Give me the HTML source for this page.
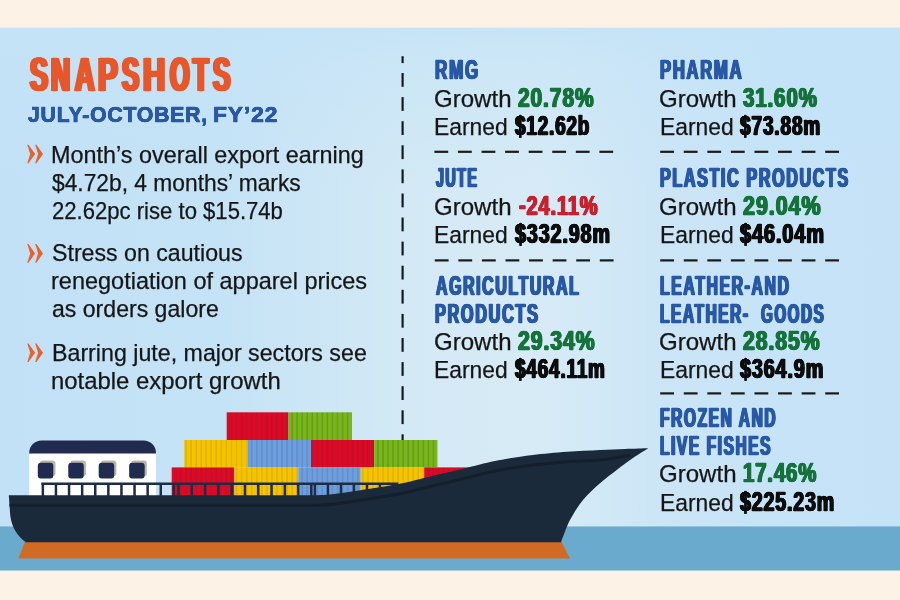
<!DOCTYPE html>
<html><head><meta charset="utf-8"><title>Snapshots</title>
<style>
html,body{margin:0;padding:0;}
body{width:900px;height:600px;overflow:hidden;background:#fdf2e6;position:relative;font-family:"Liberation Sans",sans-serif;}
#sky{position:absolute;left:0;top:27px;width:900px;height:544px;background:linear-gradient(180deg,rgba(196,227,247,0.85) 0,rgba(196,227,247,0.5) 8%,rgba(196,227,247,0) 30%),linear-gradient(90deg,#c2e1f6 0%,#c5e3f6 25%,#d3e9f5 45%,#d7ebf6 60%,#cde6f6 72%,#c6e3f7 85%,#c5e2f7 100%);}
#sea{position:absolute;left:0;top:527px;width:900px;height:44px;background:#6aabcd;border-top:1px solid rgba(106,171,205,0.55);margin-top:-1px;background-clip:padding-box;}
.t{position:absolute;white-space:pre;transform-origin:0 0;}
svg{position:absolute;left:0;top:0;}
</style></head><body>
<div id="sky"></div>
<div id="sea"></div>
<div style="position:absolute;left:0;top:27px;width:900px;height:1px;background:rgba(253,242,230,0.6)"></div>
<div style="position:absolute;left:0;top:570px;width:900px;height:1px;background:rgba(253,242,230,0.5)"></div>
<svg width="900" height="600" viewBox="0 0 900 600">
<defs>
<pattern id="cr" width="5.05" height="10" patternUnits="userSpaceOnUse"><rect width="5.05" height="10" fill="#dc0a26"/><rect x="3.6" width="1.3" height="10" fill="#bf0f26"/></pattern>
<pattern id="cy" width="5.05" height="10" patternUnits="userSpaceOnUse"><rect width="5.05" height="10" fill="#f5c400"/><rect x="3.6" width="1.3" height="10" fill="#e0ae00"/></pattern>
<pattern id="cb" width="5.05" height="10" patternUnits="userSpaceOnUse"><rect width="5.05" height="10" fill="#6e9fdc"/><rect x="3.6" width="1.3" height="10" fill="#5c8ccb"/></pattern>
<pattern id="cg" width="5.05" height="10" patternUnits="userSpaceOnUse"><rect width="5.05" height="10" fill="#7ab51d"/><rect x="3.6" width="1.3" height="10" fill="#5f9a17"/></pattern>
</defs>
<!-- vertical dashed -->
<g fill="#1a1a1a"><rect x="401.5" y="56.2" width="2.2" height="6.9"/>
<rect x="401.5" y="73.0" width="2.2" height="13.8"/>
<rect x="401.5" y="97.1" width="2.2" height="13.8"/>
<rect x="401.5" y="121.2" width="2.2" height="13.8"/>
<rect x="401.5" y="145.3" width="2.2" height="13.8"/>
<rect x="401.5" y="169.4" width="2.2" height="13.8"/>
<rect x="401.5" y="193.5" width="2.2" height="13.8"/>
<rect x="401.5" y="217.5" width="2.2" height="13.8"/>
<rect x="401.5" y="241.6" width="2.2" height="13.8"/>
<rect x="401.5" y="265.7" width="2.2" height="13.8"/>
<rect x="401.5" y="289.8" width="2.2" height="13.8"/>
<rect x="401.5" y="313.9" width="2.2" height="13.8"/>
<rect x="401.5" y="338.0" width="2.2" height="13.8"/>
<rect x="401.5" y="362.1" width="2.2" height="13.8"/>
<rect x="401.5" y="386.2" width="2.2" height="13.8"/>
<rect x="401.5" y="410.3" width="2.2" height="13.8"/>
<rect x="401.5" y="434.3" width="2.2" height="5.7"/></g>
<g fill="#1a1a1a"><rect x="434.40" y="150.70" width="13.8" height="2.2"/>
<rect x="457.97" y="150.70" width="13.8" height="2.2"/>
<rect x="481.54" y="150.70" width="13.8" height="2.2"/>
<rect x="505.11" y="150.70" width="13.8" height="2.2"/>
<rect x="528.68" y="150.70" width="13.8" height="2.2"/>
<rect x="552.25" y="150.70" width="13.8" height="2.2"/>
<rect x="575.82" y="150.70" width="13.8" height="2.2"/>
<rect x="599.39" y="150.70" width="13.8" height="2.2"/>
<rect x="434.80" y="259.30" width="13.8" height="2.2"/>
<rect x="458.37" y="259.30" width="13.8" height="2.2"/>
<rect x="481.94" y="259.30" width="13.8" height="2.2"/>
<rect x="505.51" y="259.30" width="13.8" height="2.2"/>
<rect x="529.08" y="259.30" width="13.8" height="2.2"/>
<rect x="552.65" y="259.30" width="13.8" height="2.2"/>
<rect x="576.22" y="259.30" width="13.8" height="2.2"/>
<rect x="599.79" y="259.30" width="13.8" height="2.2"/>
<rect x="660.20" y="150.70" width="13.8" height="2.2"/>
<rect x="683.77" y="150.70" width="13.8" height="2.2"/>
<rect x="707.34" y="150.70" width="13.8" height="2.2"/>
<rect x="730.91" y="150.70" width="13.8" height="2.2"/>
<rect x="754.48" y="150.70" width="13.8" height="2.2"/>
<rect x="778.05" y="150.70" width="13.8" height="2.2"/>
<rect x="801.62" y="150.70" width="13.8" height="2.2"/>
<rect x="825.19" y="150.70" width="13.8" height="2.2"/>
<rect x="660.20" y="259.30" width="13.8" height="2.2"/>
<rect x="683.77" y="259.30" width="13.8" height="2.2"/>
<rect x="707.34" y="259.30" width="13.8" height="2.2"/>
<rect x="730.91" y="259.30" width="13.8" height="2.2"/>
<rect x="754.48" y="259.30" width="13.8" height="2.2"/>
<rect x="778.05" y="259.30" width="13.8" height="2.2"/>
<rect x="801.62" y="259.30" width="13.8" height="2.2"/>
<rect x="825.19" y="259.30" width="13.8" height="2.2"/>
<rect x="660.20" y="392.30" width="13.8" height="2.2"/>
<rect x="683.77" y="392.30" width="13.8" height="2.2"/>
<rect x="707.34" y="392.30" width="13.8" height="2.2"/>
<rect x="730.91" y="392.30" width="13.8" height="2.2"/>
<rect x="754.48" y="392.30" width="13.8" height="2.2"/>
<rect x="778.05" y="392.30" width="13.8" height="2.2"/>
<rect x="801.62" y="392.30" width="13.8" height="2.2"/>
<rect x="825.19" y="392.30" width="13.8" height="2.2"/></g>
<g fill="#e8612f"><path d="M27.3,144.7 L28.5,144.7 L35.1,154 L28.5,163.3 L27.3,163.3 L30.2,154 Z"/><path d="M35.2,144.7 L36.400000000000006,144.7 L43.0,154 L36.400000000000006,163.3 L35.2,163.3 L38.1,154 Z"/><path d="M27.3,244.1 L28.5,244.1 L35.1,253.4 L28.5,262.7 L27.3,262.7 L30.2,253.4 Z"/><path d="M35.2,244.1 L36.400000000000006,244.1 L43.0,253.4 L36.400000000000006,262.7 L35.2,262.7 L38.1,253.4 Z"/><path d="M27.3,343.5 L28.5,343.5 L35.1,352.8 L28.5,362.1 L27.3,362.1 L30.2,352.8 Z"/><path d="M35.2,343.5 L36.400000000000006,343.5 L43.0,352.8 L36.400000000000006,362.1 L35.2,362.1 L38.1,352.8 Z"/></g>
<!-- cabin -->
<path d="M29.2,454 L29.2,453 A12.5,12.5 0 0 1 41.7,440.4 L143.5,440.4 A12.5,12.5 0 0 1 156,453 L156,454 Z" fill="#1f2c50"/>
<rect x="29.2" y="453.5" width="126.8" height="43" fill="#ffffff"/>
<g fill="#b9b4ae">
<rect x="39.90" y="460.4" width="15.6" height="15.8" rx="3"/><rect x="70.35" y="460.4" width="15.6" height="15.8" rx="3"/><rect x="100.80" y="460.4" width="15.6" height="15.8" rx="3"/><rect x="131.25" y="460.4" width="15.6" height="15.8" rx="3"/>
</g>
<g fill="#1f2c50">
<rect x="37.80" y="462.8" width="15.5" height="15.8" rx="3"/><rect x="68.25" y="462.8" width="15.5" height="15.8" rx="3"/><rect x="98.70" y="462.8" width="15.5" height="15.8" rx="3"/><rect x="129.15" y="462.8" width="15.5" height="15.8" rx="3"/>
</g>
<!-- containers -->
<rect x="226.7" y="412.3" width="61.8" height="27.7" fill="url(#cr)"/>
<rect x="288.5" y="412.3" width="63.5" height="27.7" fill="url(#cg)"/>
<rect x="184.3" y="440" width="63.3" height="27.4" fill="url(#cy)"/>
<rect x="247.6" y="440" width="63.4" height="27.4" fill="url(#cb)"/>
<rect x="311" y="440" width="63.2" height="27.4" fill="url(#cr)"/>
<rect x="374.2" y="440" width="63.2" height="27.4" fill="url(#cg)"/>
<rect x="171.7" y="467.4" width="62.7" height="29.6" fill="url(#cr)"/>
<rect x="234.4" y="467.4" width="63.9" height="29.6" fill="url(#cy)"/>
<rect x="298.3" y="467.4" width="62.4" height="29.6" fill="url(#cb)"/>
<rect x="360.7" y="467.4" width="63.5" height="29.6" fill="url(#cy)"/>
<rect x="424.2" y="467.4" width="45.8" height="29.6" fill="url(#cr)"/>
<!-- railing -->
<g fill="#1f2c46">
<rect x="41.3" y="482.5" width="357" height="2.5"/>
<rect x="41.6" y="483" width="2.5" height="13"/>
<rect x="54.7" y="483" width="2.5" height="13"/>
<rect x="67.8" y="483" width="2.5" height="13"/>
<rect x="80.9" y="483" width="2.5" height="13"/>
<rect x="94.0" y="483" width="2.5" height="13"/>
<rect x="107.1" y="483" width="2.5" height="13"/>
<rect x="120.2" y="483" width="2.5" height="13"/>
<rect x="133.3" y="483" width="2.5" height="13"/>
<rect x="146.4" y="483" width="2.5" height="13"/>
<rect x="159.5" y="483" width="2.5" height="13"/>
<rect x="172.5" y="483" width="2.5" height="13"/>
<rect x="177.2" y="483" width="2.5" height="13"/>
<rect x="190.5" y="483" width="2.5" height="13"/>
<rect x="203.8" y="483" width="2.5" height="13"/>
<rect x="217.1" y="483" width="2.5" height="13"/>
<rect x="230.4" y="483" width="2.5" height="13"/>
<rect x="243.7" y="483" width="2.5" height="13"/>
<rect x="257.0" y="483" width="2.5" height="13"/>
<rect x="270.3" y="483" width="2.5" height="13"/>
<rect x="283.6" y="483" width="2.5" height="13"/>
<rect x="296.9" y="483" width="2.5" height="13"/>
<rect x="310.0" y="483" width="2.5" height="13"/>
<rect x="313.6" y="483" width="2.5" height="13"/>
<rect x="326.7" y="483" width="2.5" height="13"/>
<rect x="339.7" y="483" width="2.5" height="13"/>
<rect x="352.7" y="483" width="2.5" height="13"/>
<rect x="365.7" y="483" width="2.5" height="13"/>
<rect x="378.7" y="483" width="2.5" height="13"/>
<rect x="391.7" y="483" width="2.5" height="13"/>
</g>
<!-- orange keel -->
<path d="M25.3,541 L561,541 L570,558.4 L18.3,558.4 Z" fill="#d06a24"/>
<!-- hull -->
<path d="M8.8,495.3 L300,495.3 C303.8,495.2 316.3,495.3 323.0,495.0 C329.7,494.7 334.3,494.0 340.0,493.3 C345.7,492.6 351.5,491.6 357.0,490.8 C362.5,490.0 367.5,489.2 373.0,488.3 C378.5,487.4 384.3,486.6 390.0,485.6 C395.7,484.6 401.3,483.5 407.0,482.2 C412.7,480.9 419.2,479.2 424.0,478.0 C428.8,476.8 432.2,475.9 436.0,475.0 C439.8,474.1 443.3,473.4 447.0,472.6 C450.7,471.8 454.3,470.9 458.0,470.0 C461.7,469.1 465.3,468.1 469.0,467.2 C472.7,466.3 475.7,465.4 480.0,464.4 C484.3,463.4 490.0,462.0 495.0,461.0 C500.0,460.0 503.7,459.2 510.0,458.2 C516.3,457.2 523.5,456.1 533.0,455.0 C542.5,453.9 555.8,452.6 567.0,451.8 C578.2,451.0 590.3,450.5 600.0,450.0 C609.7,449.5 617.0,449.3 625.0,449.0 C633.0,448.7 644.4,448.4 648.3,448.3 C645.8,449.9 638.3,454.4 633.0,458.0 C627.7,461.6 622.2,465.8 616.7,470.0 C611.2,474.2 605.6,478.3 600.0,483.3 C594.4,488.3 588.0,493.9 583.0,500.0 C578.0,506.1 573.3,513.9 570.0,520.0 C566.7,526.1 564.5,533.0 563.0,536.7 C561.5,540.4 561.3,541.4 561.0,542.3 L26,542.3 C17.5,536.5 11.5,527 10.2,515 Z" fill="#1b2a3b"/>
<!-- sheer line -->
<path d="M9.5,505.3 L300,505.3 C303.8,505.2 316.3,505.3 323.0,505.0 C329.7,504.7 334.3,504.0 340.0,503.3 C345.7,502.6 351.5,501.6 357.0,500.8 C362.5,500.0 367.5,499.2 373.0,498.3 C378.5,497.4 384.3,496.6 390.0,495.6 C395.7,494.6 401.3,493.5 407.0,492.2 C412.7,490.9 419.2,489.2 424.0,488.0 C428.8,486.8 432.2,485.9 436.0,485.0 C439.8,484.1 443.3,483.4 447.0,482.6 C450.7,481.8 454.3,480.9 458.0,480.0 C461.7,479.1 465.3,478.1 469.0,477.2 C472.7,476.3 475.7,475.4 480.0,474.4 C484.3,473.4 490.0,472.0 495.0,471.0 C500.0,470.0 503.7,469.2 510.0,468.2 C516.3,467.2 523.5,466.1 533.0,465.0 C542.5,463.9 555.8,462.6 567.0,461.8 C578.2,461.0 589.5,461.1 600.0,460.0 C610.5,458.9 625.0,455.8 630.0,455.0" fill="none" stroke="#131f2c" stroke-width="3"/>
</svg>
<div id="tx" style="position:absolute;left:0;top:0;width:900px;height:600px;will-change:transform;">
<span class="t" style="left:30.01px;top:50px;font-size:48.6px;line-height:48.6px;font-weight:700;color:#e8572a;transform:scaleX(0.5559);-webkit-text-stroke:0.5px #e8572a;text-shadow:3.06px 0 0 #e8572a,-3.06px 0 0 #e8572a,1.53px 0 0 #e8572a,-1.53px 0 0 #e8572a;">S</span>
<span class="t" style="left:51.07px;top:50px;font-size:48.6px;line-height:48.6px;font-weight:700;color:#e8572a;transform:scaleX(0.5448);-webkit-text-stroke:0.5px #e8572a;text-shadow:3.12px 0 0 #e8572a,-3.12px 0 0 #e8572a,1.56px 0 0 #e8572a,-1.56px 0 0 #e8572a;">N</span>
<span class="t" style="left:74.75px;top:50px;font-size:48.6px;line-height:48.6px;font-weight:700;color:#e8572a;transform:scaleX(0.5545);-webkit-text-stroke:0.5px #e8572a;text-shadow:3.07px 0 0 #e8572a,-3.07px 0 0 #e8572a,1.53px 0 0 #e8572a,-1.53px 0 0 #e8572a;">A</span>
<span class="t" style="left:97.87px;top:50px;font-size:48.6px;line-height:48.6px;font-weight:700;color:#e8572a;transform:scaleX(0.6107);-webkit-text-stroke:0.5px #e8572a;text-shadow:2.78px 0 0 #e8572a,-2.78px 0 0 #e8572a,1.39px 0 0 #e8572a,-1.39px 0 0 #e8572a;">P</span>
<span class="t" style="left:122.34px;top:50px;font-size:48.6px;line-height:48.6px;font-weight:700;color:#e8572a;transform:scaleX(0.5288);-webkit-text-stroke:0.5px #e8572a;text-shadow:3.21px 0 0 #e8572a,-3.21px 0 0 #e8572a,1.61px 0 0 #e8572a,-1.61px 0 0 #e8572a;">S</span>
<span class="t" style="left:142.81px;top:50px;font-size:48.6px;line-height:48.6px;font-weight:700;color:#e8572a;transform:scaleX(0.6310);-webkit-text-stroke:0.5px #e8572a;text-shadow:2.69px 0 0 #e8572a,-2.69px 0 0 #e8572a,1.35px 0 0 #e8572a,-1.35px 0 0 #e8572a;">H</span>
<span class="t" style="left:169.50px;top:50px;font-size:48.6px;line-height:48.6px;font-weight:700;color:#e8572a;transform:scaleX(0.5168);-webkit-text-stroke:0.5px #e8572a;text-shadow:3.29px 0 0 #e8572a,-3.29px 0 0 #e8572a,1.64px 0 0 #e8572a,-1.64px 0 0 #e8572a;">O</span>
<span class="t" style="left:192.87px;top:50px;font-size:48.6px;line-height:48.6px;font-weight:700;color:#e8572a;transform:scaleX(0.5231);-webkit-text-stroke:0.5px #e8572a;text-shadow:3.25px 0 0 #e8572a,-3.25px 0 0 #e8572a,1.62px 0 0 #e8572a,-1.62px 0 0 #e8572a;">T</span>
<span class="t" style="left:212.53px;top:50px;font-size:48.6px;line-height:48.6px;font-weight:700;color:#e8572a;transform:scaleX(0.5356);-webkit-text-stroke:0.5px #e8572a;text-shadow:3.17px 0 0 #e8572a,-3.17px 0 0 #e8572a,1.59px 0 0 #e8572a,-1.59px 0 0 #e8572a;">S</span>
<span class="t" style="left:28.37px;top:104px;font-size:22.5px;line-height:22.5px;font-weight:700;color:#2958a5;transform:scaleX(0.9384);-webkit-text-stroke:0.4px #2958a5;letter-spacing:0.9px;text-shadow:0.32px 0 0 #2958a5,-0.32px 0 0 #2958a5,0.16px 0 0 #2958a5,-0.16px 0 0 #2958a5;">JULY-OCTOBER,</span>
<span class="t" style="left:212.54px;top:104px;font-size:22.5px;line-height:22.5px;font-weight:700;color:#2958a5;transform:scaleX(1.0114);-webkit-text-stroke:0.4px #2958a5;letter-spacing:0.9px;text-shadow:0.30px 0 0 #2958a5,-0.30px 0 0 #2958a5,0.15px 0 0 #2958a5,-0.15px 0 0 #2958a5;">FY’22</span>
<span class="t" style="left:51.49px;top:144px;font-size:23.25px;line-height:23.25px;font-weight:400;color:#161616;transform:scaleX(1.0057);-webkit-text-stroke:0.25px #161616;">Month’s overall export earning</span>
<span class="t" style="left:52.25px;top:172px;font-size:23.25px;line-height:23.25px;font-weight:400;color:#161616;transform:scaleX(0.9802);-webkit-text-stroke:0.25px #161616;">$4.72b, 4 months’ marks</span>
<span class="t" style="left:51.55px;top:200px;font-size:23.25px;line-height:23.25px;font-weight:400;color:#161616;transform:scaleX(0.9502);-webkit-text-stroke:0.25px #161616;">22.62pc rise to $15.74b</span>
<span class="t" style="left:51.50px;top:242px;font-size:23.25px;line-height:23.25px;font-weight:400;color:#161616;transform:scaleX(0.9960);-webkit-text-stroke:0.25px #161616;">Stress on cautious</span>
<span class="t" style="left:50.98px;top:270px;font-size:23.25px;line-height:23.25px;font-weight:400;color:#161616;transform:scaleX(1.0105);-webkit-text-stroke:0.25px #161616;">renegotiation of apparel prices</span>
<span class="t" style="left:51.76px;top:298px;font-size:23.25px;line-height:23.25px;font-weight:400;color:#161616;transform:scaleX(0.9925);-webkit-text-stroke:0.25px #161616;">as orders galore</span>
<span class="t" style="left:51.50px;top:342px;font-size:23.25px;line-height:23.25px;font-weight:400;color:#161616;transform:scaleX(0.9984);-webkit-text-stroke:0.25px #161616;">Barring jute, major sectors see</span>
<span class="t" style="left:50.96px;top:370px;font-size:23.25px;line-height:23.25px;font-weight:400;color:#161616;transform:scaleX(1.0272);-webkit-text-stroke:0.25px #161616;">notable export growth</span>
<span class="t" style="left:434.90px;top:57px;font-size:27px;line-height:27px;font-weight:700;color:#2958a5;transform:scaleX(0.6305);-webkit-text-stroke:0.45px #2958a5;letter-spacing:2.8px;text-shadow:1.35px 0 0 #2958a5,-1.35px 0 0 #2958a5,0.67px 0 0 #2958a5,-0.67px 0 0 #2958a5;">RMG</span>
<span class="t" style="left:433.97px;top:88px;font-size:23.25px;line-height:23.25px;font-weight:400;color:#161616;transform:scaleX(1.0345);-webkit-text-stroke:0.25px #161616;">Growth</span>
<span class="t" style="left:518.17px;top:85px;font-size:27px;line-height:27px;font-weight:700;color:#15723a;transform:scaleX(0.7740);-webkit-text-stroke:0.3px #15723a;letter-spacing:1.2px;text-shadow:0.97px 0 0 #15723a,-0.97px 0 0 #15723a,0.48px 0 0 #15723a,-0.48px 0 0 #15723a;">20.78%</span>
<span class="t" style="left:434.28px;top:116px;font-size:23.25px;line-height:23.25px;font-weight:400;color:#161616;transform:scaleX(0.9826);-webkit-text-stroke:0.25px #161616;">Earned</span>
<span class="t" style="left:514.58px;top:113px;font-size:27px;line-height:27px;font-weight:700;color:#0d0d0d;transform:scaleX(0.7000);-webkit-text-stroke:0.3px #0d0d0d;letter-spacing:1.2px;text-shadow:1.07px 0 0 #0d0d0d,-1.07px 0 0 #0d0d0d,0.54px 0 0 #0d0d0d,-0.54px 0 0 #0d0d0d;">$12.62b</span>
<span class="t" style="left:435.72px;top:165px;font-size:27px;line-height:27px;font-weight:700;color:#2958a5;transform:scaleX(0.5285);-webkit-text-stroke:0.45px #2958a5;letter-spacing:2.8px;text-shadow:1.61px 0 0 #2958a5,-1.61px 0 0 #2958a5,0.80px 0 0 #2958a5,-0.80px 0 0 #2958a5;">JUTE</span>
<span class="t" style="left:433.97px;top:196px;font-size:23.25px;line-height:23.25px;font-weight:400;color:#161616;transform:scaleX(1.0345);-webkit-text-stroke:0.25px #161616;">Growth</span>
<span class="t" style="left:518.76px;top:193px;font-size:27px;line-height:27px;font-weight:700;color:#c9202e;transform:scaleX(0.7392);-webkit-text-stroke:0.3px #c9202e;letter-spacing:1.2px;text-shadow:1.01px 0 0 #c9202e,-1.01px 0 0 #c9202e,0.51px 0 0 #c9202e,-0.51px 0 0 #c9202e;">-24.11%</span>
<span class="t" style="left:434.28px;top:224px;font-size:23.25px;line-height:23.25px;font-weight:400;color:#161616;transform:scaleX(0.9826);-webkit-text-stroke:0.25px #161616;">Earned</span>
<span class="t" style="left:515.07px;top:221px;font-size:27px;line-height:27px;font-weight:700;color:#0d0d0d;transform:scaleX(0.7305);-webkit-text-stroke:0.3px #0d0d0d;letter-spacing:1.2px;text-shadow:1.03px 0 0 #0d0d0d,-1.03px 0 0 #0d0d0d,0.51px 0 0 #0d0d0d,-0.51px 0 0 #0d0d0d;">$332.98m</span>
<span class="t" style="left:435.56px;top:273px;font-size:27px;line-height:27px;font-weight:700;color:#2958a5;transform:scaleX(0.5870);-webkit-text-stroke:0.45px #2958a5;letter-spacing:2.8px;text-shadow:1.45px 0 0 #2958a5,-1.45px 0 0 #2958a5,0.72px 0 0 #2958a5,-0.72px 0 0 #2958a5;">AGRICULTURAL</span>
<span class="t" style="left:434.95px;top:301px;font-size:27px;line-height:27px;font-weight:700;color:#2958a5;transform:scaleX(0.6012);-webkit-text-stroke:0.45px #2958a5;letter-spacing:2.8px;text-shadow:1.41px 0 0 #2958a5,-1.41px 0 0 #2958a5,0.71px 0 0 #2958a5,-0.71px 0 0 #2958a5;">PRODUCTS</span>
<span class="t" style="left:433.97px;top:331px;font-size:23.25px;line-height:23.25px;font-weight:400;color:#161616;transform:scaleX(1.0345);-webkit-text-stroke:0.25px #161616;">Growth</span>
<span class="t" style="left:518.16px;top:328px;font-size:27px;line-height:27px;font-weight:700;color:#15723a;transform:scaleX(0.7844);-webkit-text-stroke:0.3px #15723a;letter-spacing:1.2px;text-shadow:0.96px 0 0 #15723a,-0.96px 0 0 #15723a,0.48px 0 0 #15723a,-0.48px 0 0 #15723a;">29.34%</span>
<span class="t" style="left:434.28px;top:359px;font-size:23.25px;line-height:23.25px;font-weight:400;color:#161616;transform:scaleX(0.9826);-webkit-text-stroke:0.25px #161616;">Earned</span>
<span class="t" style="left:515.08px;top:356px;font-size:27px;line-height:27px;font-weight:700;color:#0d0d0d;transform:scaleX(0.6996);-webkit-text-stroke:0.3px #0d0d0d;letter-spacing:1.2px;text-shadow:1.07px 0 0 #0d0d0d,-1.07px 0 0 #0d0d0d,0.54px 0 0 #0d0d0d,-0.54px 0 0 #0d0d0d;">$464.11m</span>
<span class="t" style="left:660.43px;top:57px;font-size:27px;line-height:27px;font-weight:700;color:#2958a5;transform:scaleX(0.6153);-webkit-text-stroke:0.45px #2958a5;letter-spacing:2.8px;text-shadow:1.38px 0 0 #2958a5,-1.38px 0 0 #2958a5,0.69px 0 0 #2958a5,-0.69px 0 0 #2958a5;">PHARMA</span>
<span class="t" style="left:659.47px;top:88px;font-size:23.25px;line-height:23.25px;font-weight:400;color:#161616;transform:scaleX(1.0345);-webkit-text-stroke:0.25px #161616;">Growth</span>
<span class="t" style="left:743.37px;top:85px;font-size:27px;line-height:27px;font-weight:700;color:#15723a;transform:scaleX(0.7565);-webkit-text-stroke:0.3px #15723a;letter-spacing:1.2px;text-shadow:0.99px 0 0 #15723a,-0.99px 0 0 #15723a,0.50px 0 0 #15723a,-0.50px 0 0 #15723a;">31.60%</span>
<span class="t" style="left:659.78px;top:116px;font-size:23.25px;line-height:23.25px;font-weight:400;color:#161616;transform:scaleX(0.9826);-webkit-text-stroke:0.25px #161616;">Earned</span>
<span class="t" style="left:740.07px;top:113px;font-size:27px;line-height:27px;font-weight:700;color:#0d0d0d;transform:scaleX(0.7054);-webkit-text-stroke:0.3px #0d0d0d;letter-spacing:1.2px;text-shadow:1.06px 0 0 #0d0d0d,-1.06px 0 0 #0d0d0d,0.53px 0 0 #0d0d0d,-0.53px 0 0 #0d0d0d;">$73.88m</span>
<span class="t" style="left:660.46px;top:165px;font-size:27px;line-height:27px;font-weight:700;color:#2958a5;transform:scaleX(0.5946);-webkit-text-stroke:0.45px #2958a5;letter-spacing:2.8px;text-shadow:1.43px 0 0 #2958a5,-1.43px 0 0 #2958a5,0.71px 0 0 #2958a5,-0.71px 0 0 #2958a5;">PLASTIC PRODUCTS</span>
<span class="t" style="left:659.47px;top:196px;font-size:23.25px;line-height:23.25px;font-weight:400;color:#161616;transform:scaleX(1.0345);-webkit-text-stroke:0.25px #161616;">Growth</span>
<span class="t" style="left:743.15px;top:193px;font-size:27px;line-height:27px;font-weight:700;color:#15723a;transform:scaleX(0.7948);-webkit-text-stroke:0.3px #15723a;letter-spacing:1.2px;text-shadow:0.94px 0 0 #15723a,-0.94px 0 0 #15723a,0.47px 0 0 #15723a,-0.47px 0 0 #15723a;">29.04%</span>
<span class="t" style="left:659.78px;top:224px;font-size:23.25px;line-height:23.25px;font-weight:400;color:#161616;transform:scaleX(0.9826);-webkit-text-stroke:0.25px #161616;">Earned</span>
<span class="t" style="left:740.07px;top:221px;font-size:27px;line-height:27px;font-weight:700;color:#0d0d0d;transform:scaleX(0.7388);-webkit-text-stroke:0.3px #0d0d0d;letter-spacing:1.2px;text-shadow:1.02px 0 0 #0d0d0d,-1.02px 0 0 #0d0d0d,0.51px 0 0 #0d0d0d,-0.51px 0 0 #0d0d0d;">$46.04m</span>
<span class="t" style="left:660.48px;top:273px;font-size:27px;line-height:27px;font-weight:700;color:#2958a5;transform:scaleX(0.5833);-webkit-text-stroke:0.45px #2958a5;letter-spacing:2.8px;text-shadow:1.46px 0 0 #2958a5,-1.46px 0 0 #2958a5,0.73px 0 0 #2958a5,-0.73px 0 0 #2958a5;">LEATHER-AND</span>
<span class="t" style="left:660.49px;top:301px;font-size:27px;line-height:27px;font-weight:700;color:#2958a5;transform:scaleX(0.5713);-webkit-text-stroke:0.45px #2958a5;letter-spacing:2.8px;text-shadow:1.49px 0 0 #2958a5,-1.49px 0 0 #2958a5,0.74px 0 0 #2958a5,-0.74px 0 0 #2958a5;">LEATHER-</span>
<span class="t" style="left:659.47px;top:331px;font-size:23.25px;line-height:23.25px;font-weight:400;color:#161616;transform:scaleX(1.0345);-webkit-text-stroke:0.25px #161616;">Growth</span>
<span class="t" style="left:743.16px;top:328px;font-size:27px;line-height:27px;font-weight:700;color:#15723a;transform:scaleX(0.7844);-webkit-text-stroke:0.3px #15723a;letter-spacing:1.2px;text-shadow:0.96px 0 0 #15723a,-0.96px 0 0 #15723a,0.48px 0 0 #15723a,-0.48px 0 0 #15723a;">28.85%</span>
<span class="t" style="left:659.78px;top:359px;font-size:23.25px;line-height:23.25px;font-weight:400;color:#161616;transform:scaleX(0.9826);-webkit-text-stroke:0.25px #161616;">Earned</span>
<span class="t" style="left:740.07px;top:356px;font-size:27px;line-height:27px;font-weight:700;color:#0d0d0d;transform:scaleX(0.7321);-webkit-text-stroke:0.3px #0d0d0d;letter-spacing:1.2px;text-shadow:1.02px 0 0 #0d0d0d,-1.02px 0 0 #0d0d0d,0.51px 0 0 #0d0d0d,-0.51px 0 0 #0d0d0d;">$364.9m</span>
<span class="t" style="left:760.79px;top:301px;font-size:27px;line-height:27px;font-weight:700;color:#2958a5;transform:scaleX(0.5608);-webkit-text-stroke:0.45px #2958a5;letter-spacing:2.8px;text-shadow:1.52px 0 0 #2958a5,-1.52px 0 0 #2958a5,0.76px 0 0 #2958a5,-0.76px 0 0 #2958a5;">GOODS</span>
<span class="t" style="left:660.49px;top:405px;font-size:27px;line-height:27px;font-weight:700;color:#2958a5;transform:scaleX(0.5746);-webkit-text-stroke:0.45px #2958a5;letter-spacing:2.8px;text-shadow:1.48px 0 0 #2958a5,-1.48px 0 0 #2958a5,0.74px 0 0 #2958a5,-0.74px 0 0 #2958a5;">FROZEN AND</span>
<span class="t" style="left:660.49px;top:433px;font-size:27px;line-height:27px;font-weight:700;color:#2958a5;transform:scaleX(0.5724);-webkit-text-stroke:0.45px #2958a5;letter-spacing:2.8px;text-shadow:1.48px 0 0 #2958a5,-1.48px 0 0 #2958a5,0.74px 0 0 #2958a5,-0.74px 0 0 #2958a5;">LIVE FISHES</span>
<span class="t" style="left:659.47px;top:463px;font-size:23.25px;line-height:23.25px;font-weight:400;color:#161616;transform:scaleX(1.0345);-webkit-text-stroke:0.25px #161616;">Growth</span>
<span class="t" style="left:742.62px;top:460px;font-size:27px;line-height:27px;font-weight:700;color:#15723a;transform:scaleX(0.7513);-webkit-text-stroke:0.3px #15723a;letter-spacing:1.2px;text-shadow:1.00px 0 0 #15723a,-1.00px 0 0 #15723a,0.50px 0 0 #15723a,-0.50px 0 0 #15723a;">17.46%</span>
<span class="t" style="left:659.78px;top:492px;font-size:23.25px;line-height:23.25px;font-weight:400;color:#161616;transform:scaleX(0.9826);-webkit-text-stroke:0.25px #161616;">Earned</span>
<span class="t" style="left:740.07px;top:489px;font-size:27px;line-height:27px;font-weight:700;color:#0d0d0d;transform:scaleX(0.7246);-webkit-text-stroke:0.3px #0d0d0d;letter-spacing:1.2px;text-shadow:1.04px 0 0 #0d0d0d,-1.04px 0 0 #0d0d0d,0.52px 0 0 #0d0d0d,-0.52px 0 0 #0d0d0d;">$225.23m</span>
</div>
</body></html>
